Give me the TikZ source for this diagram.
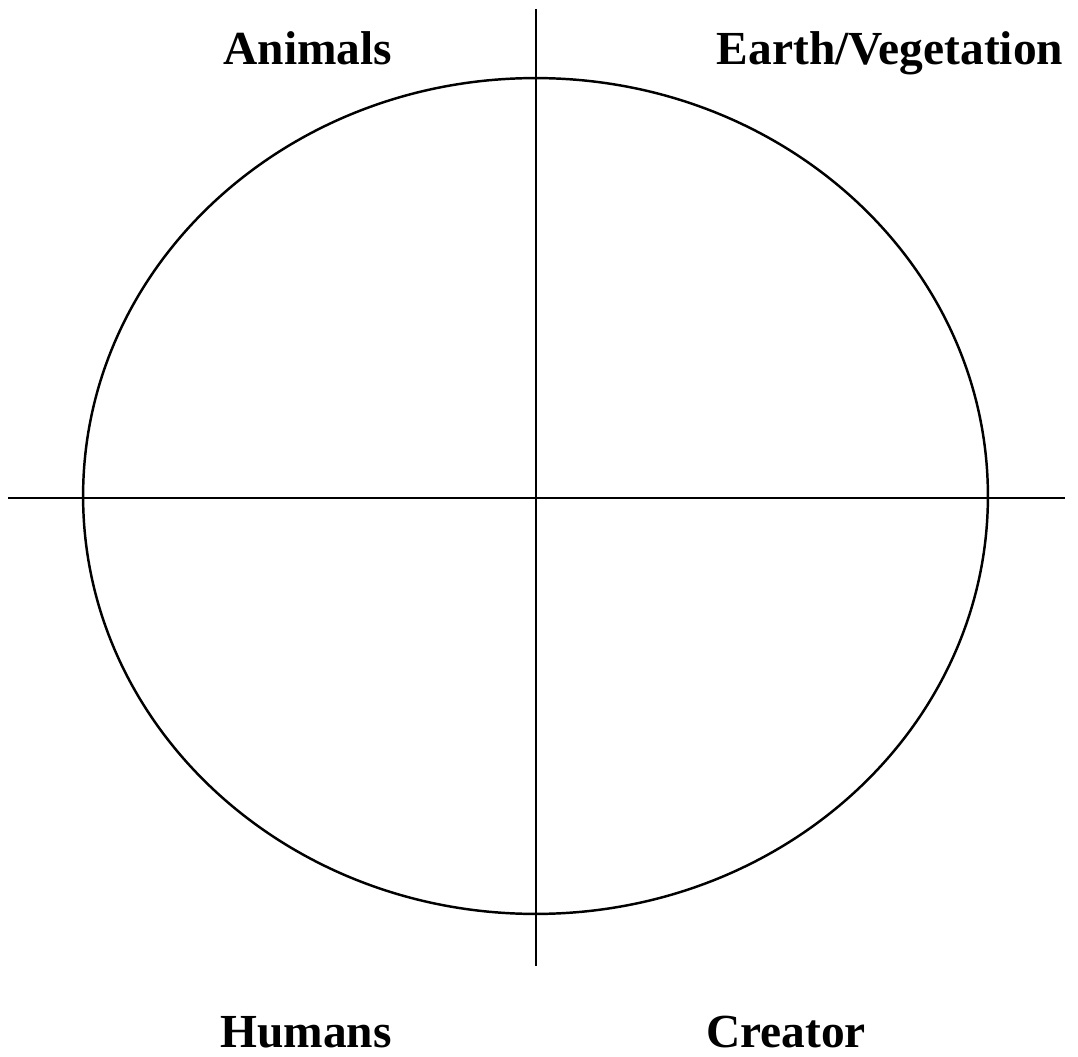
\documentclass[tikz,border=0pt]{standalone}
\usepackage{fontspec}
\setmainfont{Liberation Serif}
\usepackage{tikz}
\usetikzlibrary{shapes.geometric, positioning, calc}

\begin{document}
\begin{tikzpicture}[
    x=0.02cm, y=-0.02cm,
    axis/.style={draw=black, line width=1.4pt, #1},
    axis/.default={},
    ring/.style={ellipse, draw=black, line width=1.4pt, inner sep=0pt, minimum width=18.1cm, minimum height=16.72cm},
    quadlabel/.style={anchor=base, inner sep=0pt, font=\fontsize{27}{32}\selectfont\bfseries}
]
\useasboundingbox (0,0) rectangle (1078,1057);

% === CIRCLE ===
\node[ring] (circ) at (535.5, 496) {};

% === AXES ===
\coordinate (top) at (536, 9);
\coordinate (bottom) at (536, 966);
\coordinate (left) at (8, 498);
\coordinate (right) at (1065, 498);
\draw[axis] (top) -- (bottom);
\draw[axis] (left) -- (right);

% === LABELS ===
\node[quadlabel] (animals) at (308, 65) {Animals};
\node[quadlabel] (earth) at (890, 65) {Earth/Vegetation};
\node[quadlabel] (humans) at (306, 1047) {Humans};
\node[quadlabel] (creator) at (786, 1047) {Creator};

\end{tikzpicture}
\end{document}
